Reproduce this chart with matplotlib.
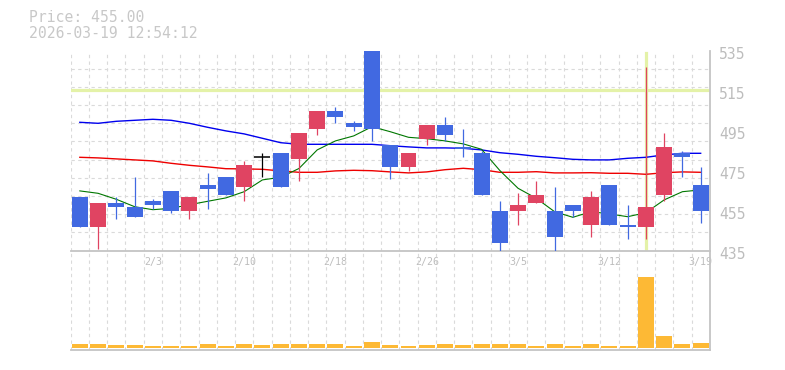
import numpy as np
import matplotlib
matplotlib.use('Agg')
import matplotlib.pyplot as plt
from matplotlib.transforms import ScaledTranslation

plt.rcParams['font.family'] = ['DejaVu Sans Mono']

dates = ['1/28', '1/29', '1/30', '2/2', '2/3', '2/4', '2/5', '2/6', '2/9', '2/10',
         '2/12', '2/13', '2/16', '2/17', '2/18', '2/19', '2/20', '2/24', '2/25', '2/26',
         '2/27', '3/2', '3/3', '3/4', '3/5', '3/6', '3/9', '3/10', '3/11', '3/12',
         '3/13', '3/16', '3/17', '3/18', '3/19']
opens = [462, 447, 459, 457, 460, 465, 455, 468, 472, 467,
         482, 484, 481, 496, 505, 499, 541, 488, 477, 491,
         498, 487, 484, 455, 455, 459, 455, 458, 448, 468,
         448, 447, 463, 484, 468]
highs = [462, 459, 462, 472, 461, 465, 462, 474, 472, 480,
         484, 484, 494, 505, 507, 500, 541, 488, 484, 498,
         502, 496, 485, 460, 464, 470, 467, 458, 465, 468,
         458, 527, 494, 485, 477]
lows = [447, 436, 451, 452, 456, 454, 451, 456, 463, 460,
        472, 467, 470, 493, 499, 495, 490, 471, 475, 488,
        490, 482, 463, 435, 448, 459, 435, 452, 442, 448,
        441, 441, 460, 472, 449]
closes = [447, 459, 457, 452, 458, 455, 462, 466, 463, 478,
          482, 467, 494, 505, 502, 497, 496, 477, 484, 498,
          493, 486, 463, 439, 458, 463, 442, 455, 462, 448,
          447, 457, 487, 482, 455]
volumes = [38, 40, 30, 31, 21, 20, 22, 41, 19, 40,
           29, 39, 41, 40, 42, 21, 60, 31, 20, 29,
           40, 30, 41, 39, 40, 20, 41, 19, 39, 20,
           21, 712, 121, 40, 52]
ma_short = [464.8, 463.6, 460.6, 456.9, 455.4, 456.1, 457.9, 459.6, 461.3, 464.4,
            470.3, 471.6, 476.0, 485.3, 489.8, 492.3, 496.9, 494.4, 491.6, 490.9,
            489.8, 488.3, 485.6, 475.0, 466.1, 461.1, 454.4, 451.6, 454.4, 453.3,
            451.9, 453.9, 460.3, 464.4, 465.3]
ma_mid = [481.6, 481.3, 480.8, 480.3, 479.8, 478.6, 477.6, 476.8, 475.9, 475.8,
          475.6, 474.8, 474.1, 474.1, 474.8, 475.1, 474.9, 474.3, 473.8, 474.3,
          475.4, 476.1, 475.4, 474.1, 474.1, 474.4, 473.8, 473.8, 473.9, 473.6,
          473.6, 473.1, 473.9, 474.3, 474.1]
ma_long = [499.1, 498.6, 499.6, 500.1, 500.6, 500.1, 498.6, 496.6, 494.8, 493.3,
           491.1, 488.9, 488.1, 488.1, 488.1, 488.1, 488.1, 487.4, 486.8, 486.3,
           486.3, 486.1, 485.3, 483.9, 483.1, 482.1, 481.4, 480.6, 480.3, 480.3,
           481.1, 481.6, 482.8, 483.6, 483.6]
label_dates = ['2/3', '2/10', '2/18', '2/26', '3/5', '3/12', '3/19']
price_ticks = [435, 455, 475, 495, 515, 535]
mark_price = 515.3
mark_date = '3/16'
last_price = '455.00'
stamp = '2026-03-19 12:54:12'

up_col = '#E04462'
down_col = '#4169E1'
grid_col = '#DADADA'
txt_col = '#BDBDBD'
mark_col = '#E4F2A8'

fig = plt.figure(figsize=(7.85, 3.70), dpi=100)
W, H = 785, 370
left, right = 70.7 / W, 709.8 / W
ax = fig.add_axes([left, 1 - 250.5 / H, right - left, 200 / H])
axv = fig.add_axes([left, 1 - 350 / H, right - left, 99.5 / H], sharex=ax)
axv.patch.set_visible(False)

x = np.arange(len(dates))
o = np.array(opens)
c = np.array(closes)
cols = [up_col if cc > oo else (down_col if cc < oo else 'black') for oo, cc in zip(o, c)]

# reference lines
ax.axhline(mark_price, color=mark_col, lw=2.3, zorder=1)
ax.axvline(dates.index(mark_date), color=mark_col, lw=2.3, zorder=1, ymax=0.99)

# moving averages
ax.plot(x, ma_long, color='#0000EE', lw=1.0, zorder=2)
ax.plot(x, ma_mid, color='#EE0000', lw=1.0, zorder=2)
ax.plot(x, ma_short, color='#007700', lw=0.8, zorder=2)

# candles
ax.vlines(x, lows, highs, colors=cols, lw=0.9, zorder=3)
body = np.abs(c - o)
ax.bar(x, np.where(body == 0, 0, body), bottom=np.minimum(o, c), width=0.875,
       color=cols, zorder=4)
doji = body == 0
ax.hlines(c[doji], x[doji] - 0.44, x[doji] + 0.44, colors='black', lw=1.1, zorder=4)

axv.bar(x, volumes, width=0.875, color='#FDB935', zorder=3)

ax.set_xlim(-0.5, len(dates) - 0.5)
ax.set_ylim(435, 535)
axv.set_ylim(-20, 975)

for a in (ax, axv):
    a.set_xticks(np.arange(-0.5, len(dates), 1), minor=True)
    a.grid(which='minor', axis='x', color=grid_col, lw=0.8, ls=(0, (3, 3)))
    a.tick_params(which='both', length=0)
    for s in ('left', 'top'):
        a.spines[s].set_visible(False)
    for s in ('right', 'bottom'):
        a.spines[s].set_color('#C4C4C4')
        a.spines[s].set_linewidth(1.3)
    a.set_axisbelow(True)

ax.set_yticks(np.linspace(435, 535, 12), minor=True)
ax.grid(which='minor', axis='y', color=grid_col, lw=0.8, ls=(0, (3, 3)))
ax.yaxis.tick_right()
ax.set_yticks(price_ticks)
ax.set_yticklabels([str(p) for p in price_ticks], fontsize=10.6, color=txt_col)
ax.tick_params(axis='y', pad=6.5)
off = ScaledTranslation(0, -2.5 / 100, fig.dpi_scale_trans)
for lab in ax.get_yticklabels():
    lab.set_transform(lab.get_transform() + off)

ax.set_xticks([dates.index(d) for d in label_dates])
ax.set_xticklabels(label_dates, fontsize=7.2, color=txt_col)
ax.tick_params(axis='x', pad=4.5)
axv.tick_params(axis='x', labelbottom=False)
axv.set_yticks([])

fig.text(29 / W, 1 - 18 / H, 'Price: ' + last_price, fontsize=10.6, color='#C8C8C8', va='center')
fig.text(29 / W, 1 - 33.5 / H, stamp, fontsize=10.6, color='#C8C8C8', va='center')

fig.savefig('out.png', dpi=100)
